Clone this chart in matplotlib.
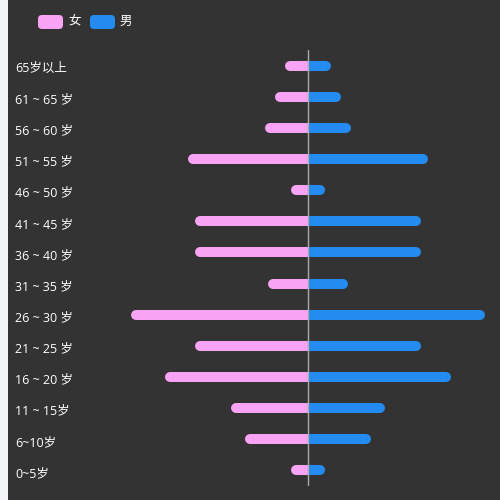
import matplotlib
matplotlib.use("Agg")
import matplotlib.pyplot as plt
from matplotlib.patches import Rectangle, FancyBboxPatch

plt.rcParams['font.family'] = ['Open Sans', 'Noto Sans CJK SC', 'DejaVu Sans']

categories = ["65岁以上", "61 ~ 65 岁", "56 ~ 60 岁", "51 ~ 55 岁", "46 ~ 50 岁",
              "41 ~ 45 岁", "36 ~ 40 岁", "31 ~ 35 岁", "26 ~ 30 岁", "21 ~ 25 岁",
              "16 ~ 20 岁", "11 ~ 15岁", "6~10岁", "0~5岁"]
female = [7, 10, 13, 36, 5, 34, 34, 12, 53, 34, 43, 23, 19, 5]
male = [7, 10, 13, 36, 5, 34, 34, 12, 53, 34, 43, 23, 19, 5]
series_names = ["女", "男"]

PINK = "#F9A3F4"
BLUE = "#248CF0"
BG = "#333333"

W, H = 500, 500
fig = plt.figure(figsize=(5, 5), dpi=100, facecolor=BG)
fig.patches.append(Rectangle((0, 0), 8 / W, 1, transform=fig.transFigure,
                             facecolor="#F3F4F8", edgecolor="none", zorder=-1))

ax = fig.add_axes([128 / W, (H - 486) / H, 360 / W, 436 / H])
ax.set_facecolor(BG)
ax.set_xlim(-54, 54)
ax.set_ylim(len(categories) - 0.5, -0.5)
for s in ax.spines.values():
    s.set_visible(False)
ax.set_xticks([])
ax.set_yticks([])

lw_px = 10
lw_pt = lw_px * 72 / 100
fig.canvas.draw()
px_per_unit = ax.transData.transform((1, 0))[0] - ax.transData.transform((0, 0))[0]
r = (lw_px / 2) / px_per_unit

left_clip = Rectangle((-1000, -10), 1000, 100, transform=ax.transData)
right_clip = Rectangle((0, -10), 1000, 100, transform=ax.transData)

for i, (f, m) in enumerate(zip(female, male)):
    l1, = ax.plot([r, -(f - r)], [i, i], color=PINK, lw=lw_pt,
                  solid_capstyle='round', zorder=2)
    l1.set_clip_path(left_clip)
    l2, = ax.plot([-r, m - r], [i, i], color=BLUE, lw=lw_pt,
                  solid_capstyle='round', zorder=2)
    l2.set_clip_path(right_clip)

ax.axvline(0, color="#AAAAAA", lw=1, zorder=3)

for i, c in enumerate(categories):
    y_fig = (ax.transData.transform((0, i))[1] - 3) / H
    fig.text(15 / W, y_fig, c, color="white", fontsize=9, ha="left", va="center")

for x0, col, name in [(38, PINK, series_names[0]), (90, BLUE, series_names[1])]:
    fig.patches.append(FancyBboxPatch((x0 / W, (H - 29) / H), 25 / W, 14 / H,
                                      boxstyle="round,pad=0,rounding_size=0.008",
                                      transform=fig.transFigure,
                                      facecolor=col, edgecolor="none"))
    fig.text((x0 + 30) / W, (H - 21) / H, name, color="white", fontsize=9,
             ha="left", va="center")

fig.savefig("out.png", dpi=100, facecolor=BG)
